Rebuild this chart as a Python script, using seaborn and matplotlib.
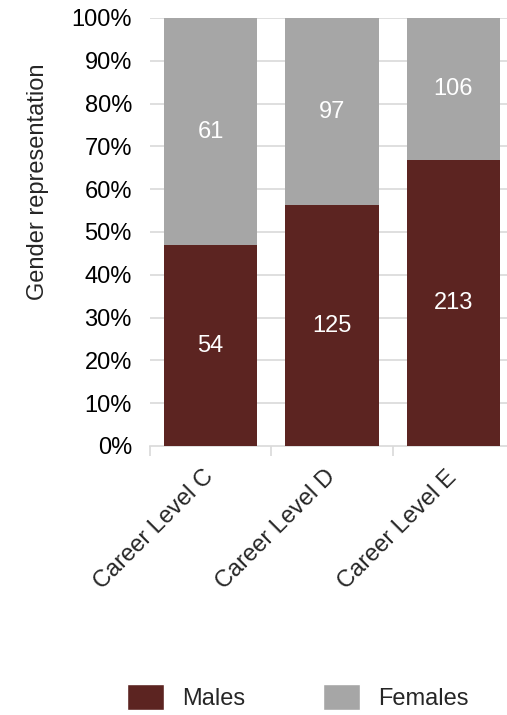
import matplotlib
matplotlib.use("Agg")
import matplotlib.pyplot as plt
import seaborn as sns
import pandas as pd
import numpy as np
from matplotlib.patches import Patch

levels = ["Career Level C", "Career Level D", "Career Level E"]
males = [54, 125, 213]
females = [61, 97, 106]
y_ticks = [0, 10, 20, 30, 40, 50, 60, 70, 80, 90, 100]

male_color = "#5C2421"
female_color = "#A6A6A6"
grid_color = "#D9D9D9"
fs = 17

sns.set_theme(style="white")
plt.rcParams["font.family"] = ["Liberation Sans", "DejaVu Sans"]

totals = np.array(males) + np.array(females)
male_pct = np.array(males) / totals * 100
df = pd.DataFrame({"level": levels, "male_pct": male_pct, "total": 100.0})

W, H = 507, 715
fig = plt.figure(figsize=(W / 100, H / 100), dpi=100)
ax = fig.add_axes([150 / W, 1 - 446 / H, (514 - 150) / W, (446 - 18) / H])

# full-height bars for females, males drawn on top
sns.barplot(data=df, x="level", y="total", color=female_color, width=0.77,
            saturation=1, linewidth=0, ax=ax, zorder=2)
sns.barplot(data=df, x="level", y="male_pct", color=male_color, width=0.77,
            saturation=1, linewidth=0, ax=ax, zorder=3)

ax.set_ylim(0, 100)
ax.set_xlim(-0.5, 2.5)
ax.set_yticks(y_ticks)
ax.set_yticklabels([f"{t}%" for t in y_ticks], fontsize=fs, color="black")
for t in y_ticks[1:]:
    ax.axhline(t, color=grid_color, lw=1.2, zorder=1)

ax.set_xticks([0, 1, 2])
ax.set_xticklabels(levels, rotation=45, ha="right", va="center",
                   rotation_mode="anchor", fontsize=fs)
ax.tick_params(axis="x", length=0, pad=20)
ax.tick_params(axis="y", length=0, pad=13)
# boundary ticks on the category axis
ax.set_xticks([-0.5, 0.5, 1.5, 2.5], minor=True)
ax.tick_params(axis="x", which="minor", length=7, color=grid_color, width=1.2,
               direction="out")
ax.xaxis.set_tick_params(which="minor", bottom=True)

for s in ["top", "right", "left"]:
    ax.spines[s].set_visible(False)
ax.spines["bottom"].set_color(grid_color)
ax.spines["bottom"].set_linewidth(1.2)
ax.set_xlabel("")
ax.set_ylabel("")

# value labels
for i, (m, f, mp) in enumerate(zip(males, females, male_pct)):
    ax.text(i, mp / 2, str(m), ha="center", va="center", color="white",
            fontsize=fs, zorder=4)
    ax.text(i, (mp + 100) / 2, str(f), ha="center", va="center", color="white",
            fontsize=fs, zorder=4)

fig.text(38 / W, 1 - 182 / H, "Gender representation", rotation=90,
         ha="center", va="center", fontsize=fs)

handles = [Patch(facecolor=male_color, label="Males"),
           Patch(facecolor=female_color, label="Females")]
fig.legend(handles=handles, loc="center", bbox_to_anchor=(298 / W, 1 - 697 / H),
           ncol=2, frameon=False, fontsize=fs, handlelength=1.57,
           handleheight=1.36, handletextpad=0.76, columnspacing=3.3)

fig.savefig("out.png", dpi=100)
